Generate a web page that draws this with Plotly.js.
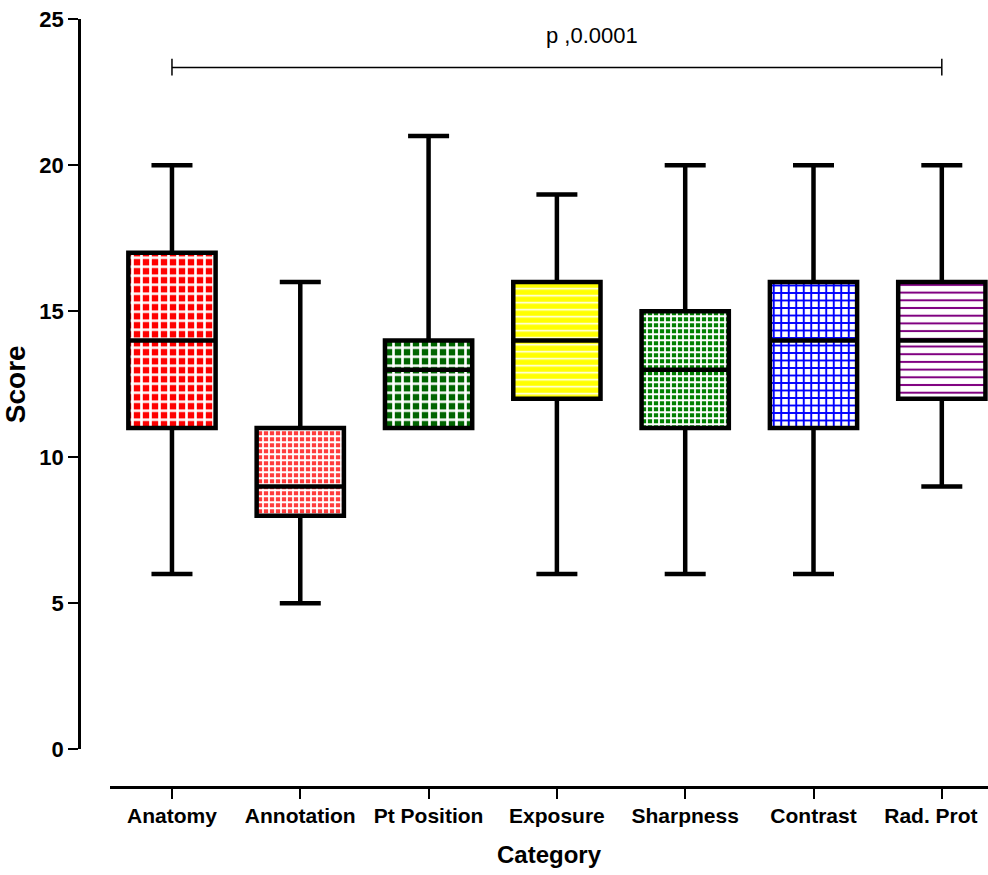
<!DOCTYPE html>
<html>
<head>
<meta charset="utf-8">
<script src="https://cdn.plot.ly/plotly-3.0.1.min.js"></script>
<style>html,body{margin:0;padding:0;background:#fff;}#chart{width:988px;height:875px;}</style>
</head>
<body>
<div id="chart"></div>
<script>
// ---- data ----
const categories = ["Anatomy", "Annotation", "Pt Position", "Exposure", "Sharpness", "Contrast", "Rad. Prot"];
const minVals    = [6, 5, 11, 6, 6, 6, 9];
const q1Vals     = [11, 8, 11, 12, 11, 11, 12];
const medianVals = [14, 9, 13, 14, 13, 14, 14];
const q3Vals     = [17, 11, 14, 16, 15, 16, 16];
const maxVals    = [20, 16, 21, 19, 20, 20, 20];
const pText = "p ,0.0001";
const yTicks = [0, 5, 10, 15, 20, 25];

// ---- styles (fill patterns) ----
const patterns = [
  {shape: "+", bgcolor: "#ff0000", fgcolor: "#ffffff", size: 9, solidity: 0.5},
  {shape: "+", bgcolor: "#ff3c3c", fgcolor: "#ffffff", size: 6, solidity: 0.5},
  {shape: "+", bgcolor: "#006400", fgcolor: "#ffffff", size: 9, solidity: 0.5},
  {shape: "-", bgcolor: "#ffff00", fgcolor: "#ffffff", size: 7, solidity: 0.22},
  {shape: "+", bgcolor: "#008000", fgcolor: "#ffffff", size: 6, solidity: 0.5},
  {shape: "+", bgcolor: "#ffffff", fgcolor: "#0000ff", size: 7.5, solidity: 0.45},
  {shape: "-", bgcolor: "#ffffff", fgcolor: "#800080", size: 7.7, solidity: 0.26}
];
// label nudge (in category units) so the last label stays inside the page
const labelNudge = [0, 0, 0, 0, 0, 0, -0.085];

const BOXW = 0.68;
const traces = [];
categories.forEach((c, i) => {
  traces.push({
    type: "bar",
    x: [i],
    base: [q1Vals[i]],
    y: [q3Vals[i] - q1Vals[i]],
    width: BOXW,
    marker: {color: patterns[i].bgcolor, line: {width: 0}, pattern: Object.assign({fillmode: "replace"}, patterns[i])},
    hoverinfo: "skip",
    showlegend: false
  });
});
categories.forEach((c, i) => {
  traces.push({
    type: "box",
    x: [i],
    q1: [q1Vals[i]],
    median: [medianVals[i]],
    q3: [q3Vals[i]],
    lowerfence: [minVals[i]],
    upperfence: [maxVals[i]],
    width: BOXW,
    whiskerwidth: 0.47,
    fillcolor: "rgba(0,0,0,0)",
    line: {color: "#000000", width: 4.5},
    boxpoints: false,
    name: c,
    showlegend: false
  });
});
// empty helper trace so the label axis (x2) is created
traces.push({type: "scatter", mode: "none", x: [], y: [], xaxis: "x2", yaxis: "y", hoverinfo: "skip", showlegend: false});

const fam = "Liberation Sans, Arial, sans-serif";
const tickFont = {family: fam, size: 21, color: "#000", weight: "bold"};
const XRANGE = [-0.483, 6.36];

const layout = {
  width: 988, height: 875,
  margin: {l: 0, r: 0, t: 0, b: 0},
  paper_bgcolor: "#fff", plot_bgcolor: "rgba(0,0,0,0)",
  showlegend: false,
  barmode: "overlay",
  boxmode: "overlay",
  xaxis: {
    domain: [110 / 988, 1],
    anchor: "free", position: 0.1009,
    range: XRANGE,
    tickmode: "array", tickvals: categories.map((c, i) => i),
    showticklabels: false,
    showgrid: false, zeroline: false,
    showline: true, linecolor: "#000", linewidth: 3,
    ticks: "outside", ticklen: 10, tickwidth: 2, tickcolor: "#000"
  },
  xaxis2: {
    overlaying: "x",
    domain: [110 / 988, 1],
    anchor: "free", position: 0.1009,
    range: XRANGE,
    tickmode: "array", tickvals: categories.map((c, i) => i + labelNudge[i]), ticktext: categories,
    tickangle: 0,
    ticklabeloverflow: "allow",
    ticks: "outside", ticklen: 10, tickwidth: 0, tickcolor: "rgba(0,0,0,0)",
    showgrid: false, zeroline: false, showline: false,
    tickfont: tickFont,
    title: {text: "Category", font: {family: fam, size: 24, color: "#000", weight: "bold"}, standoff: 20}
  },
  yaxis: {
    domain: [0.1437, 0.978],
    anchor: "free", position: 0.080,
    range: [0, 25],
    tickmode: "array", tickvals: yTicks,
    showgrid: false, zeroline: false,
    showline: true, linecolor: "#000", linewidth: 3,
    ticks: "outside", ticklen: 10, tickwidth: 2, tickcolor: "#000",
    tickfont: {family: fam, size: 22, color: "#000", weight: "bold"},
    title: {text: "Score", font: {family: fam, size: 28, color: "#000", weight: "bold"}, standoff: 8}
  },
  shapes: [
    {type: "line", xref: "x", yref: "y", x0: 0, x1: categories.length - 1, y0: 23.35, y1: 23.35, line: {color: "#000", width: 1.5}},
    {type: "line", xref: "x", yref: "y", x0: 0, x1: 0, y0: 23.07, y1: 23.65, line: {color: "#000", width: 1.5}},
    {type: "line", xref: "x", yref: "y", x0: categories.length - 1, x1: categories.length - 1, y0: 23.07, y1: 23.65, line: {color: "#000", width: 1.5}}
  ],
  annotations: [
    {xref: "x", yref: "y", x: 3.27, y: 24.45, text: pText, showarrow: false,
     font: {family: fam, size: 22, color: "#000"}}
  ]
};

Plotly.newPlot("chart", traces, layout, {displayModeBar: false, staticPlot: true});
</script>
</body>
</html>
